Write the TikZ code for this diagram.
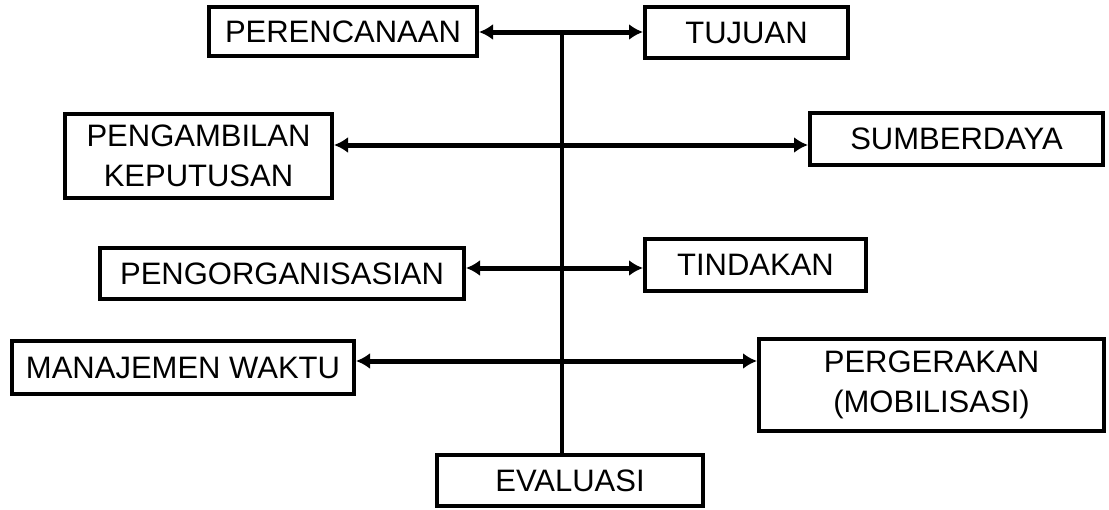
\documentclass[tikz,border=0pt]{standalone}
\usepackage{fontspec}
\setmainfont{Liberation Sans}
\usetikzlibrary{positioning, arrows.meta, calc}

\begin{document}
\begin{tikzpicture}[
    x=0.5pt, y=-0.5pt, % one unit = one pixel of the layout
    >={Latex[length=7pt,width=8pt]}, % solid arrow heads
    box/.style={draw, line width=2pt, align=center,
        inner sep=0pt, font=\fontsize{15.5}{20}\selectfont},
    link/.style={<->, line width=2.5pt},
    spine/.style={line width=1.6pt}
]
\useasboundingbox (0,0) rectangle (1109,509);

% Boxes
\node[box, minimum width=134pt, minimum height=24.5pt] (rencana) at (343,31.5) {PERENCANAAN};
\node[box, minimum width=101.5pt, minimum height=25.5pt] (tujuan) at (746.5,32.5) {TUJUAN};

\node[box, minimum width=133.5pt, minimum height=42pt] (keputusan) at (198.5,156) {PENGAMBILAN\\KEPUTUSAN};
\node[box, minimum width=146.5pt, minimum height=26pt] (sumber) at (956.5,139) {SUMBERDAYA};

\node[box, minimum width=182pt, minimum height=25.5pt] (organisasi) at (282,273.5) {PENGORGANISASIAN};
\node[box, minimum width=110.5pt, minimum height=26pt] (tindakan) at (755.5,265) {TINDAKAN};

\node[box, minimum width=171pt, minimum height=26.5pt] (waktu) at (183,367.5) {MANAJEMEN WAKTU};
\node[box, minimum width=172.5pt, minimum height=46pt] (gerak) at (931.5,385) {PERGERAKAN\\(MOBILISASI)};

\node[box, minimum width=133pt, minimum height=25.5pt] (evaluasi) at (570,480.5) {EVALUASI};

% Central line
\coordinate (puncak) at (562,32);
\draw[spine] (puncak) -- (puncak |- evaluasi.north);

% Arrows between pairs
\draw[link] (rencana.east |- puncak) -- (tujuan.west |- puncak);
\draw[link] (keputusan.east |- 0,145) -- (sumber.west |- 0,145);
\draw[link] (organisasi.east |- 0,268) -- (tindakan.west |- 0,268);
\draw[link] (waktu.east |- 0,361) -- (gerak.west |- 0,361);

\end{tikzpicture}
\end{document}
